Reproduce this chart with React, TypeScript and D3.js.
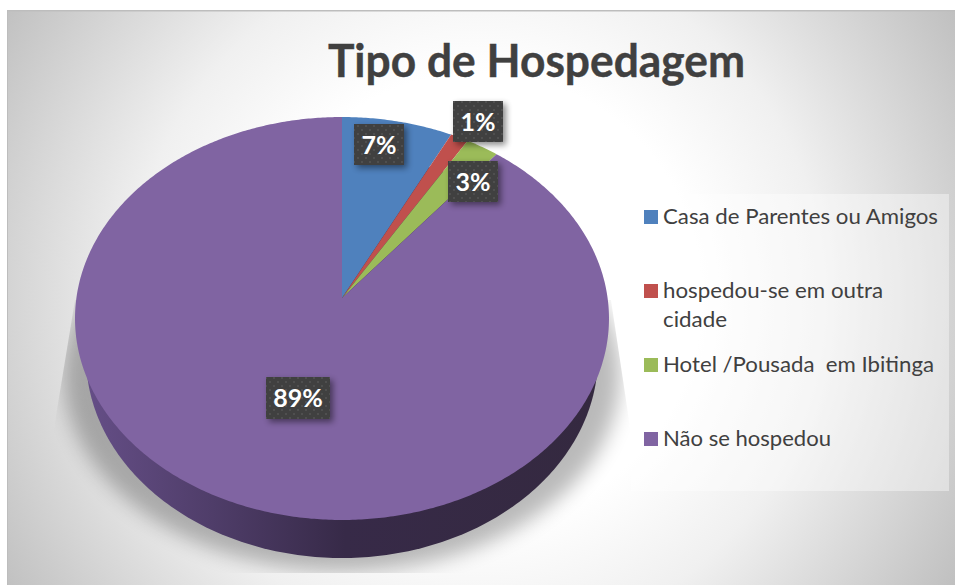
import React, { useMemo } from "react";
import * as d3 from "d3";

const categories = ["Casa de Parentes ou Amigos", "hospedou-se em outra cidade", "Hotel /Pousada  em Ibitinga", "Não se hospedou"];
const values = [7.4, 1.2, 2.2, 89.2];
const percentLabels = ["7%", "1%", "3%", "89%"];
const sliceColors = ["#4f81bd", "#c0504d", "#9bbb59", "#8064a2"];
const title = "Tipo de Hospedagem";
const legendLines = [["Casa de Parentes ou Amigos"], ["hospedou-se em outra", "cidade"], ["Hotel /Pousada  em Ibitinga"], ["Não se hospedou"]];
const legendWidths = [[275], [220, 64], [271], [168]];
const legendBaselines = [224, 298, 372, 446];
const labelBoxes = [
  { x: 354, y: 124, w: 50, h: 41 },
  { x: 453, y: 101, w: 50, h: 41 },
  { x: 448, y: 161, w: 50, h: 41 },
  { x: 266, y: 377, w: 64, h: 42 },
];

const W = 955, H = 585;
const FONT = "Lato, Carlito, Calibri, sans-serif";
const apex = { x: 342, y: 298 };
const K = 0.1017, A = 265.6, B = 199.4;

// perspective projection of the unit disc (angle clockwise from 12 o'clock)
function project(angle: number, r = 1): [number, number] {
  const u = Math.sin(angle) * r;
  const v = -Math.cos(angle) * r;
  const w = 1 - K * v;
  return [apex.x + (A * u) / w, apex.y + (B * v) / w];
}

export default function App() {
  const arcs = useMemo(() => d3.pie<number>().sort(null).startAngle(0).endAngle(2 * Math.PI)(values), []);
  const line = d3.line();
  const slicePath = (a0: number, a1: number) => {
    const n = Math.max(4, Math.ceil((a1 - a0) / 0.01));
    const pts: [number, number][] = d3.range(n + 1).map((i) => project(a0 + ((a1 - a0) * i) / n));
    return line([[apex.x, apex.y], ...pts])! + "Z";
  };
  const ellipse = (cx: number, cy: number, rx: number, ry: number) => {
    const pts: [number, number][] = d3.range(360).map((i) => {
      const t = (i / 360) * 2 * Math.PI;
      return [cx + rx * Math.cos(t), cy + ry * Math.sin(t)];
    });
    return line(pts)! + "Z";
  };

  return (
    <svg width={W} height={H} viewBox={`0 0 ${W} ${H}`} style={{ position: "absolute", left: 0, top: 0, display: "block" }}>
      <defs>
        <radialGradient id="bg" gradientUnits="userSpaceOnUse" cx={478} cy={297} r={560}>
          <stop offset="0.4" stopColor="#ffffff" />
          <stop offset="0.62" stopColor="#f0f0f0" />
          <stop offset="1" stopColor="#bfbfbf" />
        </radialGradient>
        <linearGradient id="side2" gradientUnits="userSpaceOnUse" x1={80} x2={610} y1={0} y2={0}>
          <stop offset="0" stopColor="#664f88" />
          <stop offset="0.25" stopColor="#4f3d69" />
          <stop offset="0.5" stopColor="#372a48" />
          <stop offset="1" stopColor="#34293f" />
        </linearGradient>
        <filter id="blur" x="-20%" y="-20%" width="140%" height="140%">
          <feGaussianBlur stdDeviation="10" />
        </filter>
        <filter id="boxShadow" x="-30%" y="-30%" width="170%" height="170%">
          <feGaussianBlur stdDeviation="3" />
        </filter>
        <clipPath id="shadowClip">
          <path d="M75,300L611,300L632,440L632,573L52,573L52,440Z" />
        </clipPath>
        <pattern id="dots" width={8} height={8} patternUnits="userSpaceOnUse">
          <rect width={8} height={8} fill="#404040" />
          <circle cx={2} cy={2} r={0.9} fill="#565656" />
          <circle cx={6} cy={6} r={0.9} fill="#565656" />
        </pattern>
      </defs>

      <rect x={7} y={10} width={W - 7} height={H - 10} fill="url(#bg)" />
      <rect x={7} y={10} width={W - 7} height={1.5} fill="#bdbdbd" />
      <rect x={7} y={10} width={1} height={H - 10} fill="#bdbdbd" />

      <text x={328} y={77} fontFamily={FONT} fontWeight={700} fontSize={45} stroke="#404040" strokeWidth={0.4} fill="#404040" textLength={417} lengthAdjust="spacingAndGlyphs">{title}</text>

      <g clipPath="url(#shadowClip)">
        <path d={ellipse(342, 375, 278, 196)} fill="#000" opacity={0.27} filter="url(#blur)" />
      </g>

      <path d={ellipse(342, 356.5, 256, 201.5)} fill="url(#side2)" />

      <g>
        {arcs.map((a, i) => (
          <path key={categories[i]} d={slicePath(a.startAngle, a.endAngle)} fill={sliceColors[i]} />
        ))}
      </g>

      {percentLabels.map((t, i) => {
        const b = labelBoxes[i];
        return (
          <g key={t}>
            <rect x={b.x + 3} y={b.y + 3} width={b.w} height={b.h} fill="#000" opacity={0.45} filter="url(#boxShadow)" />
            <rect x={b.x} y={b.y} width={b.w} height={b.h} fill="url(#dots)" />
            <text x={b.x + b.w / 2} y={b.y + b.h / 2 + 9} textAnchor="middle" fontFamily={FONT} fontWeight={700} fontSize={25} fill="#fff">{t}</text>
          </g>
        );
      })}

      <rect x={631} y={194} width={318} height={297} fill="#fff" opacity={0.4} />
      {categories.map((c, i) => (
        <g key={c}>
          <rect x={644} y={legendBaselines[i] - 14} width={14} height={14} fill={sliceColors[i]} />
          {legendLines[i].map((l, j) => (
            <text key={l} x={663} y={legendBaselines[i] + j * 29} fontFamily={FONT} fontSize={22} fill="#404040" style={{ whiteSpace: "pre" }} textLength={legendWidths[i][j]} lengthAdjust="spacingAndGlyphs">{l}</text>
          ))}
        </g>
      ))}
    </svg>
  );
}
